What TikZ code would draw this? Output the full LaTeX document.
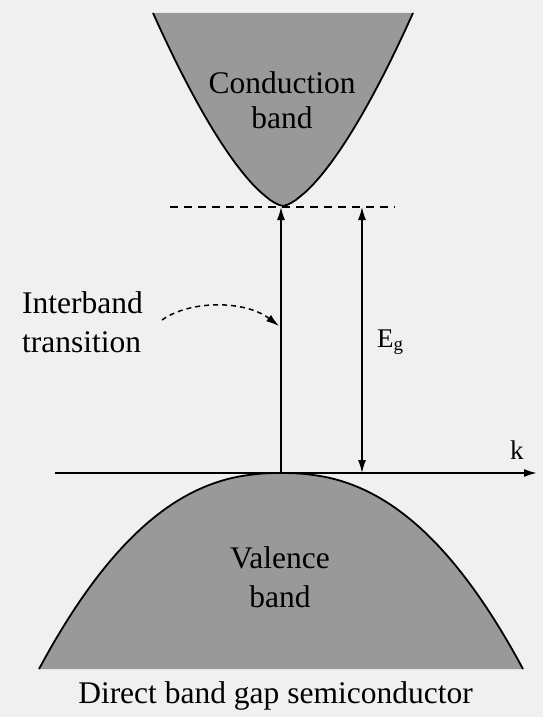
\documentclass[tikz,border=0pt]{standalone}
\usepackage{fontspec}
\setmainfont{Liberation Serif}
\usetikzlibrary{arrows.meta}

\begin{document}
\begin{tikzpicture}[x=1pt,y=-1pt,
    >={Latex[length=13pt,width=8pt]},
    bandfill/.style={fill=black!40},
    bandedge/.style={line width=1.8pt},
    lbl/.style={font=\fontsize{31.5}{36}\selectfont,inner sep=0pt}]
    \fill[black!6] (0,0) rectangle (543,717);
    \useasboundingbox (0,0) rectangle (543,717);
    \fill[bandfill] plot[domain=-130:130,samples=61] ({283+(\x)},{206-193*((abs(\x)+0.01)/130)^1.5}) -- cycle;
    \draw[bandedge] plot[domain=-130:130,samples=61] ({283+(\x)},{206-193*((abs(\x)+0.01)/130)^1.5});
    \fill[bandfill] plot[domain=-242:242,samples=81] ({281+(\x)},{473+196*((abs(\x)+0.01)/242)^2.3}) -- cycle;
    \draw[bandedge] plot[domain=-242:242,samples=81] ({281+(\x)},{473+196*((abs(\x)+0.01)/242)^2.3});
    \coordinate (cbmin) at (281,207);
    \coordinate (vbmax) at (281,473);
    \coordinate (egtop) at (362,207);
    \coordinate (egbot) at (362,473);
    \coordinate (kstart) at (55,473);
    \coordinate (kend) at (537,473);
    \coordinate (gapl) at (170,207);
    \coordinate (gapr) at (395,207);
    \coordinate (curvetail) at (162,320);
    \coordinate (curvehead) at (279,326);
    \draw[line width=1.8pt,dash pattern=on 8pt off 6pt] (gapl) -- (gapr);
    \draw[line width=1.8pt,->] (kstart) -- (kend);
    \draw[line width=1.4pt,->] (vbmax) -- (cbmin);
    \draw[line width=1.4pt,<->] (egtop) -- (egbot);
    \draw[line width=1.5pt,dash pattern=on 5pt off 4pt,->] (curvetail) .. controls (190,300) and (245,300) .. (curvehead);
    \node[lbl,anchor=base] (cond) at (282,93) {Conduction};
    \node[lbl,anchor=base] (condb) at (282,128) {band};
    \node[lbl,anchor=base] (val) at (280,568) {Valence};
    \node[lbl,anchor=base] (valb) at (280,607) {band};
    \node[lbl,anchor=base west] (inter) at (22,313) {Interband};
    \node[lbl,anchor=base west] (trans) at (22,352) {transition};
    \node[inner sep=0pt,anchor=base west,font=\fontsize{27}{30}\selectfont] (eg) at (377,347) {E\textsubscript{g}};
    \node[inner sep=0pt,anchor=base west,font=\fontsize{27}{30}\selectfont] (k) at (510,459) {k};
    \node[lbl,anchor=base] (caption) at (275.5,703) {Direct band gap semiconductor};
\end{tikzpicture}
\end{document}
